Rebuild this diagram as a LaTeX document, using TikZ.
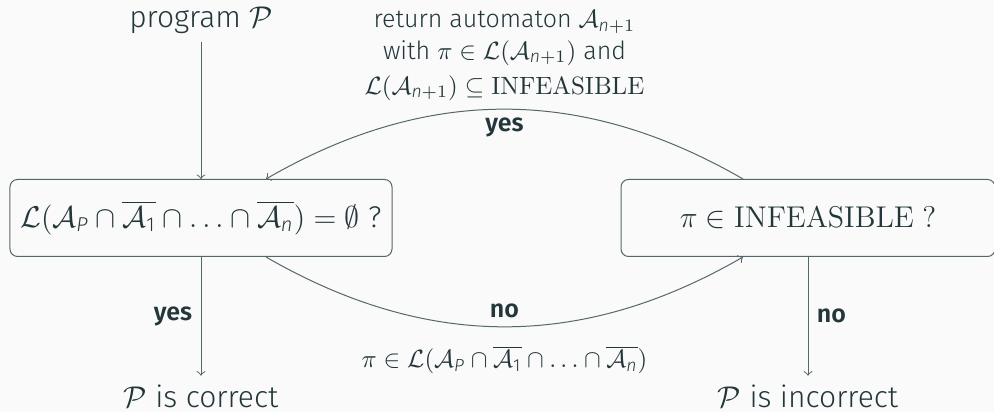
\documentclass[tikz,border=0pt]{standalone}
\usepackage{amsmath}
\usepackage[no-math]{fontspec}
\setmainfont{Fira Sans Light}[BoldFont=Fira Sans SemiBold, ItalicFont=Fira Sans Light Italic]

\definecolor{darkteal}{HTML}{23373B}
\definecolor{linegray}{HTML}{56676A}
\definecolor{bgcolor}{HTML}{FAFAFA}

% sans italic index letters
\newcommand{\idx}[1]{\text{\itshape #1}}

\begin{document}
\begin{tikzpicture}[
    x=0.4pt,
    y=0.4pt,
    color=darkteal,
    box/.style={draw=linegray, rounded corners=3pt, minimum height=30.8pt, inner sep=0pt},
    flow/.style={->, draw=linegray},
    answer/.style={font=\bfseries},
]

% Background and size
\fill[bgcolor] (0,0) rectangle (994,412);
\useasboundingbox (0,0) rectangle (994,412);

% Decision boxes
\node[box, minimum width=152.8pt] (empty) at (201,194)
    {\large $\mathcal{L}(\mathcal{A}_{\idx{P}} \cap \overline{\mathcal{A}_{\text{1}}} \cap \ldots \cap \overline{\mathcal{A}_{\idx{n}}}) = \emptyset$ ?};
\node[box, minimum width=149.6pt] (infeas) at (808,194)
    {\large $\pi \in \mathrm{INFEASIBLE}~?$};

% Input and results
\node (prog) at (201,392) {\large program $\mathcal{P}$};
\node (correct) at (201,16) {\large $\mathcal{P}$ is correct};
\node (incorrect) at (808,16) {\large $\mathcal{P}$ is incorrect};

% Straight arrows
\draw[flow] (prog) -- (empty);
\draw[flow] (empty) -- node[left, answer] {yes} (correct);
\draw[flow] (infeas) -- node[right, answer] {no} (incorrect);

% Counterexample check
\draw[flow] ([xshift=26pt]empty.south) to[out=-30, in=-150]
    node[above, answer] {no}
    node[below=4pt] {$\pi \in \mathcal{L}(\mathcal{A}_{\idx{P}} \cap \overline{\mathcal{A}_{\text{1}}} \cap \ldots \cap \overline{\mathcal{A}_{\idx{n}}})$}
    ([xshift=-26pt]infeas.south);

% Refinement
\draw[flow] ([xshift=-26pt]infeas.north) to[out=150, in=30]
    node[below, answer] {yes}
    node[above=0pt, align=center] {return automaton $\mathcal{A}_{\idx{n}+1}$\\[0.5pt]
        with $\pi \in \mathcal{L}(\mathcal{A}_{\idx{n}+1})$ and\\[2pt]
        $\mathcal{L}(\mathcal{A}_{\idx{n}+1}) \subseteq \mathrm{INFEASIBLE}$}
    ([xshift=26pt]empty.north);

\end{tikzpicture}
\end{document}
